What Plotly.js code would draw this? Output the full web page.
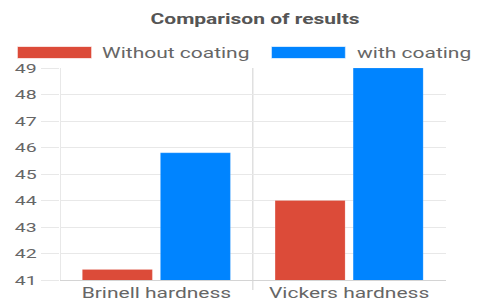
<!DOCTYPE html>
<html>
<head>
<meta charset="utf-8">
<script src="https://cdn.plot.ly/plotly-3.0.1.min.js"></script>
<style>
html,body{margin:0;padding:0;overflow:hidden;background:#fff;}
#chart{width:318px;height:302px;transform:scaleX(1.5);transform-origin:0 0;}
</style>
</head>
<body>
<div id="chart"></div>
<script>
var categories = ["Brinell hardness", "Vickers hardness"];
var seriesNames = ["Without coating", "with coating"];
var withoutCoating = [41.4, 44.0];
var withCoating = [45.8, 49.0];
var yTicks = [41, 42, 43, 44, 45, 46, 47, 48, 49];

var colors = ["#dc4b39", "#0084ff"];
var gridColor = "#e8e8e8";

var traces = [
  {type: "bar", x: categories, y: withoutCoating, name: seriesNames[0],
   marker: {color: colors[0], line: {color: "rgba(255,255,255,0.25)", width: 0.5}}, showlegend: false, hoverinfo: "y"},
  {type: "bar", x: categories, y: withCoating, name: seriesNames[1],
   marker: {color: colors[1], line: {color: "rgba(255,255,255,0.25)", width: 0.5}}, showlegend: false, hoverinfo: "y"}
];

var layout = {
  width: 318, height: 302,
  margin: {l: 40, r: 21, t: 68, b: 22},
  paper_bgcolor: "#fff", plot_bgcolor: "#fff",
  font: {family: "Roboto, sans-serif", color: "#666"},
  title: {text: "<b>Comparison of results</b>", font: {size: 14, color: "#555", family: "Roboto, sans-serif"},
          xref: "paper", x: 0.506, xanchor: "center", yref: "container", y: 0.937, yanchor: "middle"},
  barmode: "group", bargap: 0.19, bargroupgap: 0.103,
  showlegend: false,
  xaxis: {type: "category", range: [-0.5, 1.5], showgrid: false, showline: true, linecolor: "#d4d4d4", linewidth: 1,
          ticks: "", tickfont: {size: 14, color: "#666"}, fixedrange: true},
  yaxis: {range: [41, 49], tickvals: yTicks, ticktext: yTicks.map(String), showgrid: true, gridcolor: gridColor,
          zeroline: false, ticks: "outside", ticklen: 12, tickcolor: gridColor, tickfont: {size: 13, color: "#666"}, fixedrange: true},
  shapes: [
    {type: "line", xref: "x", yref: "paper", x0: -0.5, x1: -0.5, y0: 0, y1: 1, line: {color: "#e0e0e0", width: 1}, layer: "below"},
    {type: "line", xref: "x", yref: "paper", x0: 0.5, x1: 0.5, y0: -0.047, y1: 1, line: {color: "#e0e0e0", width: 1}, layer: "below"},
    {type: "rect", xref: "paper", yref: "paper", x0: -0.109, x1: 0.0805, y0: 1.047, y1: 1.099, fillcolor: colors[0], line: {color: "rgba(220,75,57,0.35)", width: 1}},
    {type: "rect", xref: "paper", yref: "paper", x0: 0.550, x1: 0.739, y0: 1.047, y1: 1.099, fillcolor: colors[1], line: {color: "rgba(0,132,255,0.35)", width: 1}}
  ],
  annotations: [
    {xref: "paper", yref: "paper", x: 0.103, y: 1.073, xanchor: "left", yanchor: "middle", showarrow: false,
     text: seriesNames[0], font: {size: 14, color: "#666"}},
    {xref: "paper", yref: "paper", x: 0.762, y: 1.073, xanchor: "left", yanchor: "middle", showarrow: false,
     text: seriesNames[1], font: {size: 14, color: "#666"}}
  ]
};

Plotly.newPlot("chart", traces, layout, {displayModeBar: false, staticPlot: true});
</script>
</body>
</html>
